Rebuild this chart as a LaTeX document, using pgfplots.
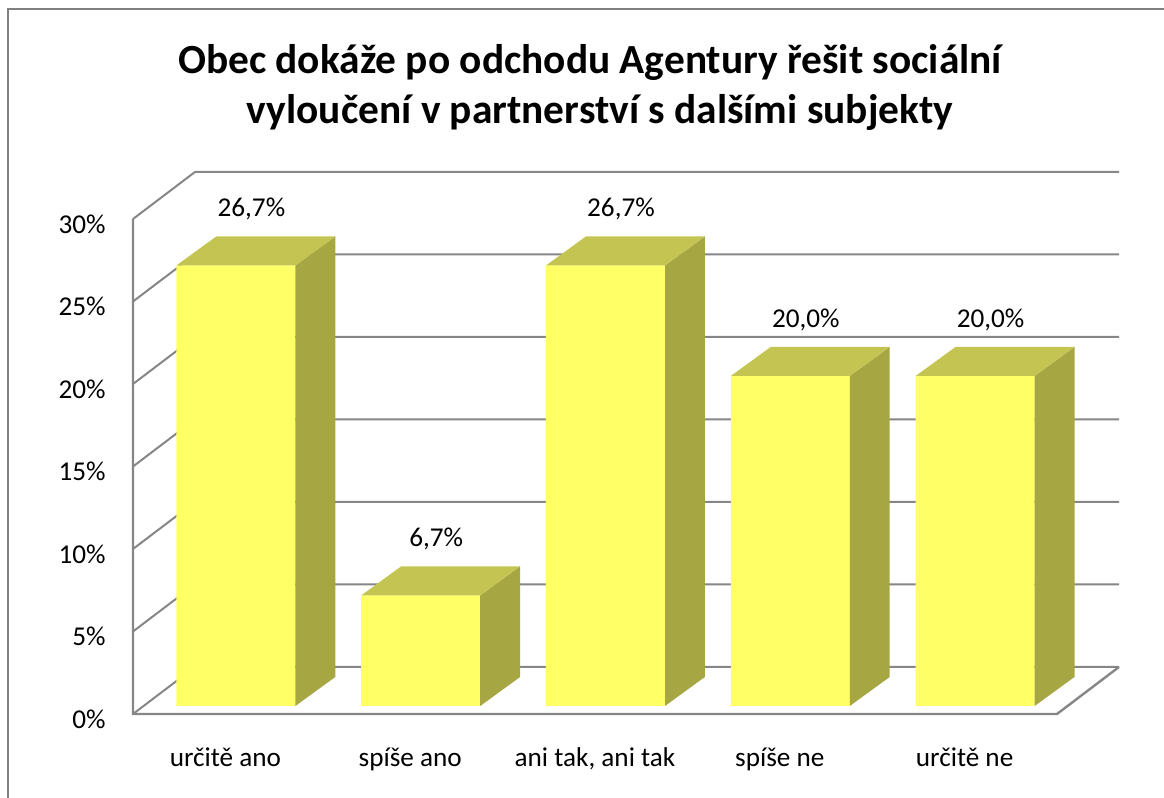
\documentclass[border=0pt]{standalone}
\usepackage{pgfplots}
\pgfplotsset{compat=1.18}
\usepackage{fontspec}
\setmainfont{Carlito}
\definecolor{frontc}{RGB}{255,255,102}
\definecolor{topc}{RGB}{196,196,82}
\definecolor{sidec}{RGB}{166,166,66}
\definecolor{gridc}{RGB}{134,134,134}
\definecolor{framec}{RGB}{128,128,128}
\pgfplotsset{barshift/.style={xshift=5.25pt,yshift=4pt}}
% top and side faces of a 3D bar: #1 = category position, #2 = value
\newcommand{\barfaces}[2]{%
  \pgfmathsetmacro\xa{#1-0.322}%
  \pgfmathsetmacro\xb{#1+0.322}%
  \pgfmathsetmacro\xc{#1-0.322+0.216}%
  \pgfmathsetmacro\xd{#1+0.322+0.216}%
  \pgfmathsetmacro\yt{#2+1.76}%
  \edef\doit{%
    \noexpand\addplot[barshift, fill=sidec, draw=none, mark=none] coordinates {(\xb,0) (\xb,#2) (\xd,\yt) (\xd,1.76)};
    \noexpand\addplot[barshift, fill=topc, draw=none, mark=none] coordinates {(\xa,#2) (\xc,\yt) (\xd,\yt) (\xb,#2)};
  }\doit
}
\begin{document}
\begin{tikzpicture}
\path[use as bounding box] (0,0) rectangle (582pt,399pt);
% chart frame
\draw[framec, line width=1.3pt] (4pt,0) -- (4pt,394.5pt) -- (582pt,394.5pt);
% title
\node[anchor=base, font=\bfseries\fontsize{20.7}{24}\selectfont] at (295pt,362pt) {Obec dokáže po odchodu Agentury řešit sociální};
\node[anchor=base, font=\bfseries\fontsize{20.7}{24}\selectfont] at (300pt,337pt) {vyloučení v partnerství s dalšími subjekty};
\begin{axis}[
  at={(66.5pt,42pt)}, anchor=south west,
  scale only axis, width=462pt, height=247.5pt,
  xmin=0.5, xmax=5.5, ymin=0, ymax=30,
  clip=false,
  axis line style={draw=none},
  major tick length=0pt,
  xtick={1,2,3,4,5},
  xticklabels={určitě ano, spíše ano, {ani tak, ani tak}, spíše ne, určitě ne},
  ytick={0,5,10,15,20,25,30},
  yticklabel={\pgfmathprintnumber[assume math mode=true]{\tick}\%},
  every tick label/.append style={font=\fontsize{13.6}{16}\selectfont, text=black},
  xticklabel style={anchor=base, inner sep=0pt, yshift=-26.5pt},
  yticklabel style={anchor=east, inner sep=0pt, xshift=-13.5pt, yshift=-2.5pt},
]
% back wall grid lines with left-wall diagonals
\addplot[gridc, line width=1pt, mark=none] coordinates {(0.5,0) (0.8355,2.85) (5.8355,2.85)};
\addplot[gridc, line width=1pt, mark=none] coordinates {(0.5,5) (0.8355,7.85) (5.8355,7.85)};
\addplot[gridc, line width=1pt, mark=none] coordinates {(0.5,10) (0.8355,12.85) (5.8355,12.85)};
\addplot[gridc, line width=1pt, mark=none] coordinates {(0.5,15) (0.8355,17.85) (5.8355,17.85)};
\addplot[gridc, line width=1pt, mark=none] coordinates {(0.5,20) (0.8355,22.85) (5.8355,22.85)};
\addplot[gridc, line width=1pt, mark=none] coordinates {(0.5,25) (0.8355,27.85) (5.8355,27.85)};
\addplot[gridc, line width=1pt, mark=none] coordinates {(0.5,30) (0.8355,32.85) (5.8355,32.85)};
% left wall edge and floor
\addplot[gridc, line width=1.2pt, mark=none] coordinates {(0.5,30) (0.5,0) (5.5,0) (5.8355,2.85)};
% bars: front faces
\addplot[ybar, bar width=0.644, bar shift=0pt, barshift, fill=frontc, draw=none]
  coordinates {(1,26.7) (2,6.7) (3,26.7) (4,20.0) (5,20.0)};
% bars: side and top faces
\barfaces{1}{26.7}
\barfaces{2}{6.7}
\barfaces{3}{26.7}
\barfaces{4}{20.0}
\barfaces{5}{20.0}
% data labels
\addplot[draw=none, mark=none, point meta=y,
  nodes near coords={\pgfmathprintnumber[fixed, fixed zerofill, precision=1, use comma, assume math mode=true]{\pgfplotspointmeta}\%},
  nodes near coords style={anchor=center, xshift=13pt, yshift=32pt, font=\fontsize{13.6}{16}\selectfont, text=black}]
  coordinates {(1,26.7) (2,6.7) (3,26.7) (4,20.0) (5,20.0)};
\end{axis}
\end{tikzpicture}
\end{document}
